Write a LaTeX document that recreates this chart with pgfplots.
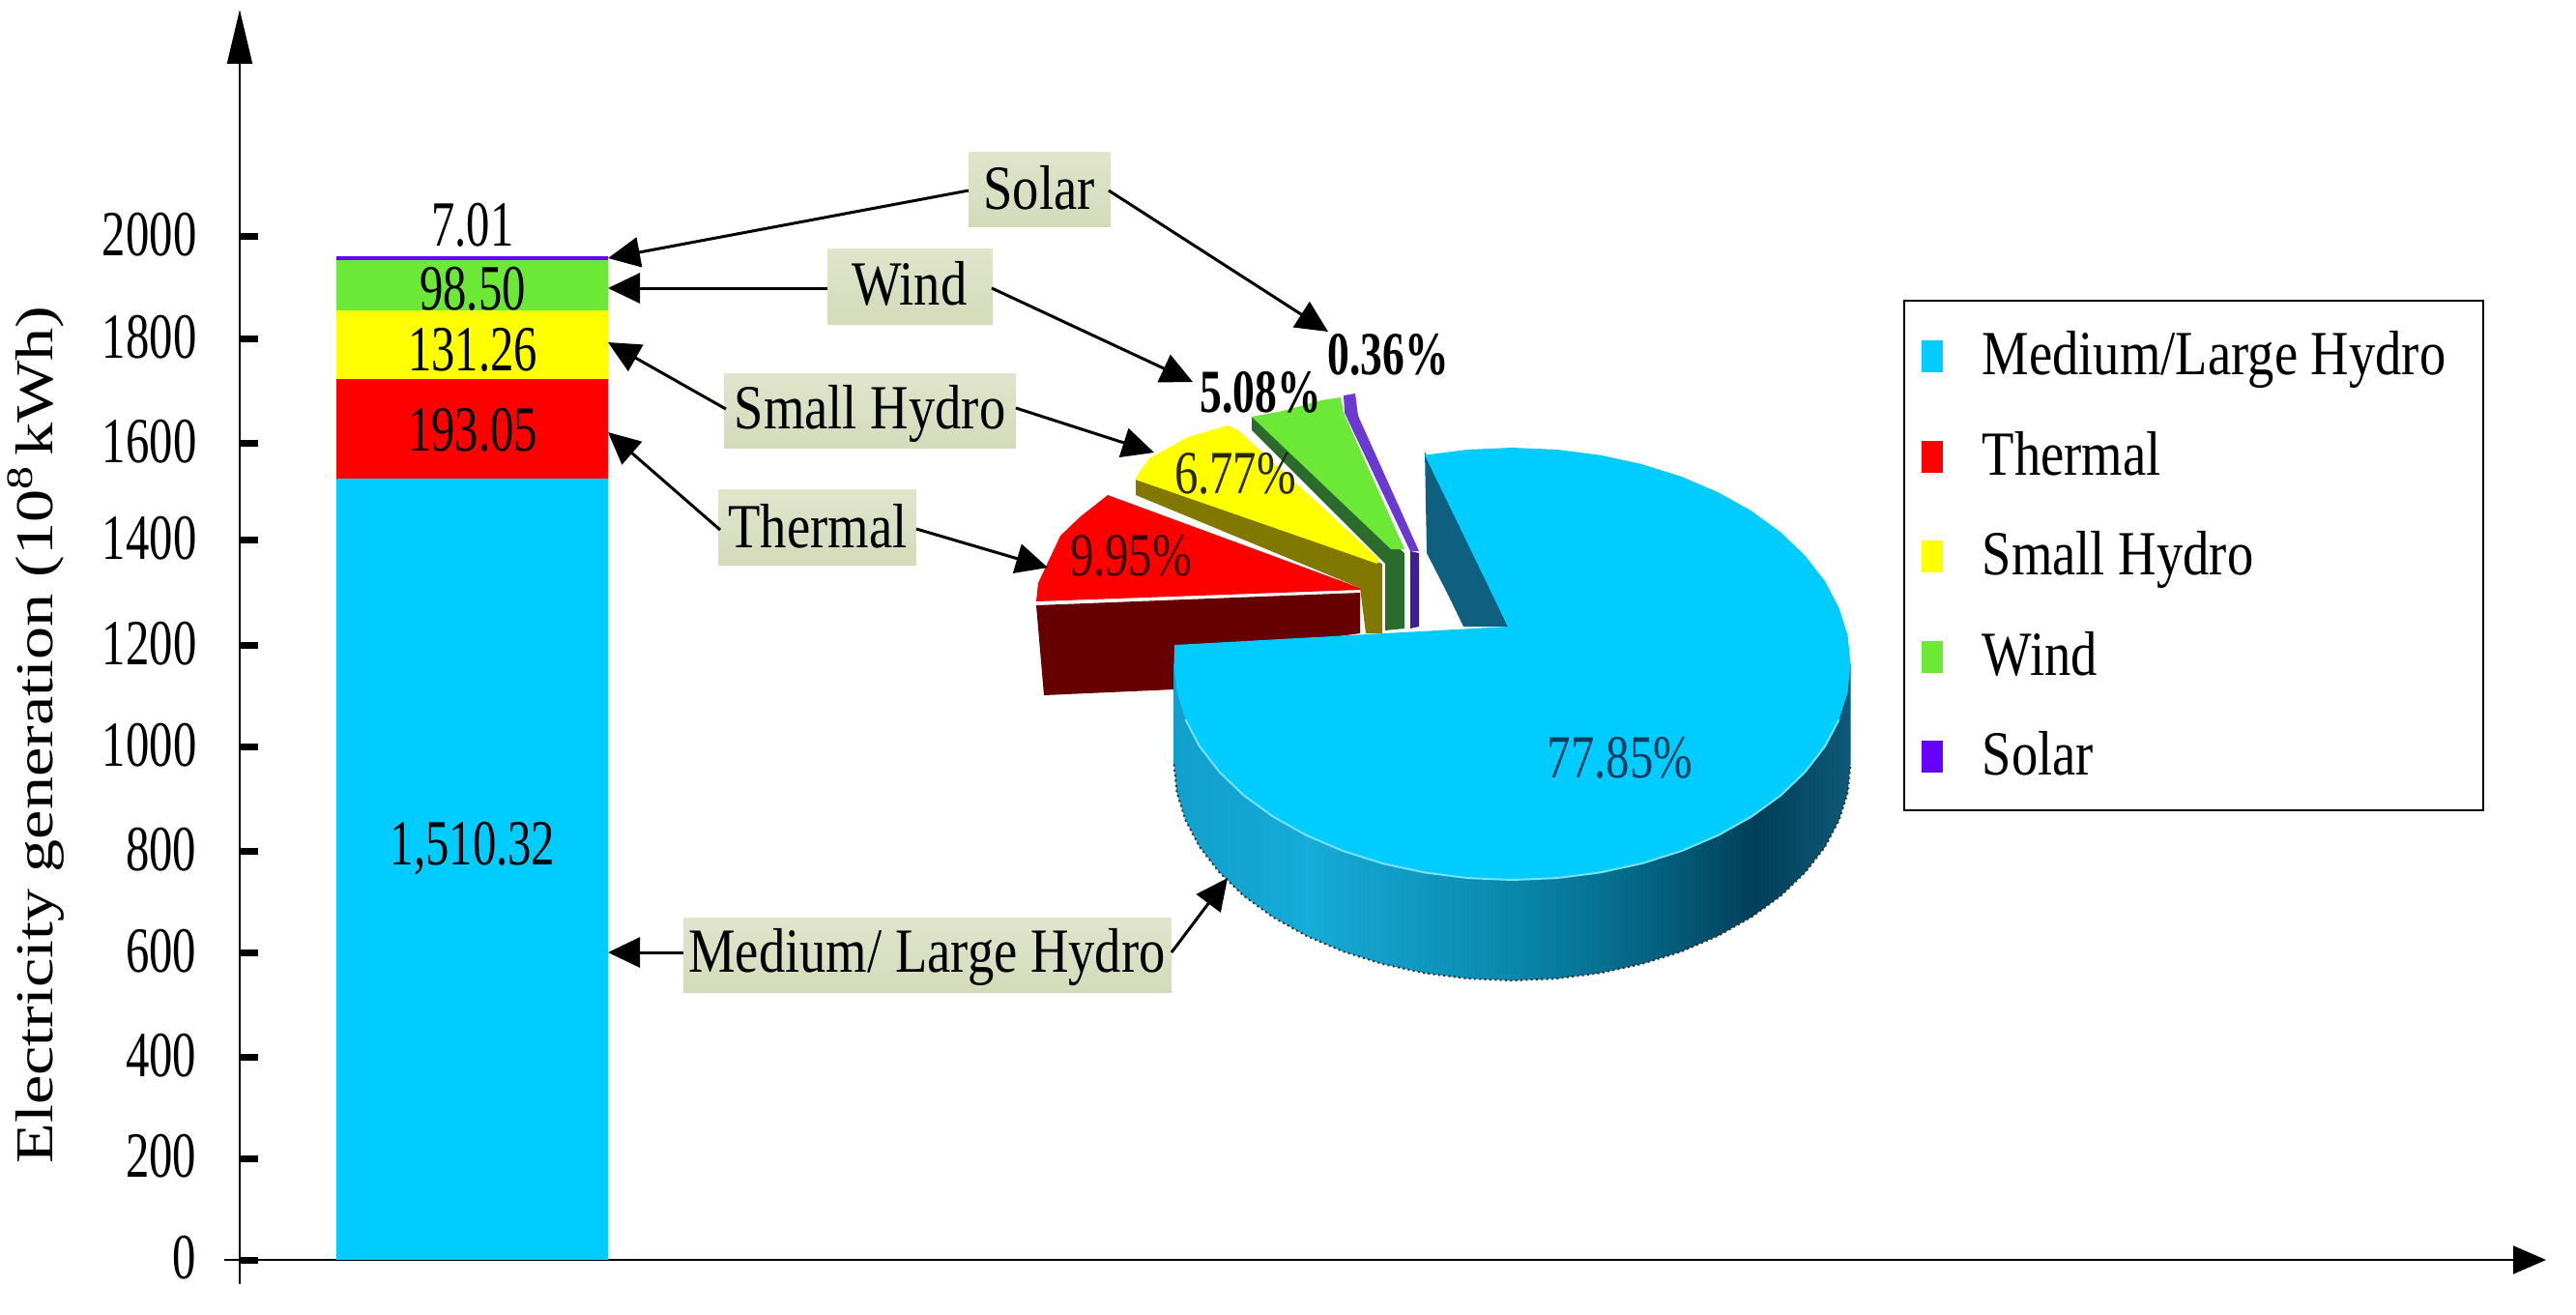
\documentclass[border=0pt]{standalone}
\usepackage{fontspec}
\usepackage{pgfplots}
\pgfplotsset{compat=1.18}
\usetikzlibrary{arrows.meta}
\setmainfont[FakeStretch=0.84]{Liberation Serif}
\newfontfamily\numfont[FakeStretch=0.73]{Liberation Serif}
\newfontfamily\pctfont[FakeStretch=0.77]{Liberation Serif}
\newfontfamily\pctbold[FakeStretch=0.72]{Liberation Serif}
\newfontfamily\labfont[FakeStretch=1.24]{Liberation Serif}
\newcommand\txt{\fontsize{19.5}{22}\selectfont}
\newcommand\num{\numfont\fontsize{20}{22}\selectfont}
\newcommand\pct{\pctfont\fontsize{19}{22}\selectfont}
\newcommand\pctb{\pctbold\fontsize{19}{22}\selectfont\bfseries}

\definecolor{hydro}{HTML}{00CCFF}
\definecolor{therm}{HTML}{FF0000}
\definecolor{small}{HTML}{FFFF00}
\definecolor{wind}{HTML}{6CE836}
\definecolor{solar}{HTML}{6600FF}
\definecolor{boxtop}{HTML}{E0E5CC}
\definecolor{boxbot}{HTML}{D4DBBA}

% side of the big slice, the shading runs over the middle 50bp
\definecolor{w1}{HTML}{129FCC}
\definecolor{w2}{HTML}{16ABD8}
\definecolor{w3}{HTML}{0A88AC}
\definecolor{w4}{HTML}{056482}
\definecolor{w5}{HTML}{033F5A}
\definecolor{w6}{HTML}{0D5A78}
\pgfdeclarehorizontalshading{piewall}{100bp}{color(0bp)=(w1); color(25bp)=(w1); color(35bp)=(w2); color(50bp)=(w3); color(60bp)=(w4); color(68bp)=(w5); color(75bp)=(w6); color(100bp)=(w6)}

\pgfplotsset{pie/.style={forget plot,draw=none,mark=none}}

% box for the callouts: x1,y1,x2,y2, text x, baseline y, text
\newcommand\callout[7]{%
  \fill[top color=boxtop,bottom color=boxbot] (axis cs:#1,#2) rectangle (axis cs:#3,#4);
  \node[anchor=base,inner sep=0pt,font=\txt] at (axis cs:#5,#6) {#7};
}
\tikzset{call/.style={line width=.9pt,-{Triangle[length=9.9pt,width=9.3pt]}}}
\newcommand\lgd[1]{\hspace*{12.2pt}\makebox[150pt][l]{#1}}

\begin{document}
\begin{tikzpicture}[x=1pt,y=1pt]
\useasboundingbox (0pt,0pt) rectangle (799.5pt,407.7pt);
% bars, ticks and legend. 0.3pt = 1 px of the reference
\begin{axis}[
    at={(74.4pt,16.8pt)},anchor=south west,
    scale only axis,width=715.8pt,height=387.9pt,
    xmin=248,xmax=2634,ymin=0,ymax=2416.8,
    axis lines=left,
    x axis line style={line width=.6pt,-{Triangle[length=10.2pt,width=8.7pt]}},
    y axis line style={line width=.6pt,-{Triangle[length=16.8pt,width=7.8pt]}},
    xtick=\empty,
    ytick={0,196,391,594,789,991,1187,1391,1579,1781,1978},
    yticklabels={0,200,400,600,800,1000,1200,1400,1600,1800,2000},
    tick align=inside,major tick length=5.7pt,
    tick style={line width=2.1pt,black},
    yticklabel style={font=\num,inner sep=0pt,xshift=-13.2pt,yshift=.6pt},
    ylabel={\labfont Electricity generation (10\textsuperscript{8}\,kWh)},
    every axis y label/.style={at={(rel axis cs:-0.0813,0.42)},rotate=90,anchor=base,font=\fontsize{16.5}{18}\selectfont},
    ybar stacked,bar width=84.3pt,
    legend cell align=left,
    legend image code/.code={\fill[#1] (0pt,-5.3pt) rectangle (6.6pt,4.6pt);},
    legend style={at={(rel axis cs:0.7213,0.768)},anchor=north west,
        draw=black,line width=.6pt,font=\txt,
        inner xsep=5.4pt,inner ysep=6pt,row sep=9.05pt,
        nodes={inner sep=0pt,text height=17pt,text depth=5pt}},
]
\addplot[fill=hydro,draw=none] coordinates {(488.5,1510.32)};
\addlegendentry{\lgd{Medium/Large Hydro}}
\addplot[fill=therm,draw=none] coordinates {(488.5,193.05)};
\addlegendentry{\lgd{Thermal}}
\addplot[fill=small,draw=none] coordinates {(488.5,131.26)};
\addlegendentry{\lgd{Small Hydro}}
\addplot[fill=wind,draw=none] coordinates {(488.5,98.50)};
\addlegendentry{\lgd{Wind}}
\addplot[fill=solar,draw=none] coordinates {(488.5,7.01)};
\addlegendentry{\lgd{Solar}}
\end{axis}

% pie and callouts, in pixels of the reference
\begin{axis}[
    at={(0pt,0pt)},anchor=south west,
    scale only axis,width=799.5pt,height=407.7pt,
    xmin=0,xmax=2665,ymin=0,ymax=1359,y dir=reverse,
    hide axis,clip=false,
]
\draw[line width=.6pt] (axis cs:248,1303)--(axis cs:248,1328);
\draw[line width=.6pt] (axis cs:232,1303)--(axis cs:248,1303);

% small slices
\addplot[pie,fill=therm!40!black] coordinates {(1072,626) (1407,613) (1407,655) (1300,670) (1215,713) (1080,719)};
\addplot[pie,fill=therm] coordinates {(1072,622) (1074,603) (1097,554) (1118,534) (1146,512) (1407,608) (1407,610)};
\addplot[pie,fill={rgb,255:red,128;green,120;blue,0}] coordinates {(1175,496) (1175,512) (1407,608) (1413,655) (1430,655) (1430,583)};
\addplot[pie,fill=small] coordinates {(1175,494) (1189,474) (1229,452) (1270,440) (1281,445) (1425,577) (1425,583) (1175,496)};
\addplot[pie,fill={rgb,255:red,43;green,107;blue,43}] coordinates {(1295,431) (1295,445) (1433,583) (1433,652) (1453,650) (1453,572)};
\addplot[pie,fill=wind] coordinates {(1295,431) (1327,425) (1367,414) (1387,411) (1390,427) (1453,568) (1439,568)};
\addplot[pie,fill={rgb,255:red,60;green,30;blue,150}] coordinates {(1459,570) (1468,572) (1468,648) (1459,650)};
\addplot[pie,fill={rgb,255:red,106;green,58;blue,208}] coordinates {(1390,409) (1402,407) (1405,430) (1468,570) (1459,570) (1391,427)};

% big slice: cut face, side, top
\addplot[pie,fill={rgb,255:red,14;green,95;blue,128}] coordinates {(1474,467) (1560,648) (1514,648) (1499,617) (1476,572)};
\addplot[pie,shading=piewall,shading angle=0] coordinates {
    (1214.5,686.5) (1214.5,790.5) (1217.5,819.7) (1226.5,848.3) (1241.1,876) (1261.5,902.25) (1286.8,926.6)
    (1317,948.5) (1351.4,967.8) (1389.5,984.1) (1430.6,997) (1473.9,1006.4) (1518.8,1012.1) (1564.5,1014)
    (1610.2,1012.1) (1655.1,1006.4) (1698.4,997) (1739.5,984.1) (1777.6,967.8) (1812,948.5) (1842.2,926.6)
    (1867.5,902.25) (1887.9,876) (1902.5,848.3) (1911.5,819.7) (1914.5,790.5) (1914.5,686.5)};
\addplot[forget plot,mark=none,densely dotted,line width=.6pt,black!80] coordinates {
    (1214.5,790.5) (1217.5,819.7) (1226.5,848.3) (1241.1,876) (1261.5,902.25) (1286.8,926.6)
    (1317,948.5) (1351.4,967.8) (1389.5,984.1) (1430.6,997) (1473.9,1006.4) (1518.8,1012.1) (1564.5,1014)
    (1610.2,1012.1) (1655.1,1006.4) (1698.4,997) (1739.5,984.1) (1777.6,967.8) (1812,948.5) (1842.2,926.6)
    (1867.5,902.25) (1887.9,876) (1902.5,848.3) (1911.5,819.7) (1914.5,790.5)};
\addplot[pie,fill=hydro] coordinates {
    (1560,648) (1473.9,470.6) (1518.8,464.9) (1564.5,463) (1610.2,464.9) (1655.1,470.6) (1698.4,480) (1739.5,492.9)
    (1777.6,509.2) (1812,528.5) (1842.2,550.4) (1867.5,574.75) (1887.9,601) (1902.5,628.7) (1911.5,657.3) (1914.5,686.5)
    (1911.5,715.7) (1902.5,744.3) (1887.9,772) (1867.5,798.25) (1842.2,822.6) (1812,844.5) (1777.6,863.8) (1739.5,880.1)
    (1698.4,893) (1655.1,902.4) (1610.2,908.1) (1564.5,910) (1518.8,908.1) (1473.9,902.4) (1430.6,893) (1389.5,880.1)
    (1351.4,863.8) (1317,844.5) (1286.8,822.6) (1261.5,798.25) (1241.1,772) (1226.5,744.3) (1217.5,715.7) (1214.5,686.5) (1215,667)};
\addplot[forget plot,mark=none,line width=.6pt,color={rgb,255:red,120;green,225;blue,250}] coordinates {
    (1902.5,744.3) (1887.9,772) (1867.5,798.25) (1842.2,822.6) (1812,844.5) (1777.6,863.8) (1739.5,880.1)
    (1698.4,893) (1655.1,902.4) (1610.2,908.1) (1564.5,910) (1518.8,908.1) (1473.9,902.4) (1430.6,893) (1389.5,880.1)
    (1351.4,863.8) (1317,844.5) (1286.8,822.6) (1261.5,798.25) (1241.1,772) (1226.5,744.3)};

% values on the bar
\node[anchor=base,inner sep=0pt,font=\num] at (axis cs:489,254) {7.01};
\node[anchor=base,inner sep=0pt,font=\num] at (axis cs:489,320) {98.50};
\node[anchor=base,inner sep=0pt,font=\num] at (axis cs:489,383) {131.26};
\node[anchor=base,inner sep=0pt,font=\num] at (axis cs:489,466) {193.05};
\node[anchor=base,inner sep=0pt,font=\num] at (axis cs:489,894) {1,510.32};

% percentages
\node[anchor=base,inner sep=0pt,font=\pct,text={rgb,255:red,8;green,60;blue,95}] at (axis cs:1676,804) {77.85\%};
\node[anchor=base,inner sep=0pt,font=\pct,text={rgb,255:red,60;green,0;blue,0}] at (axis cs:1170,595) {9.95\%};
\node[anchor=base,inner sep=0pt,font=\pct,text={rgb,255:red,40;green,40;blue,0}] at (axis cs:1278,510) {6.77\%};
\node[anchor=base,inner sep=0pt,font=\pctb] at (axis cs:1304,426) {5.08\%};
\node[anchor=base,inner sep=0pt,font=\pctb] at (axis cs:1436,387) {0.36\%};

% callouts
\callout{1002}{157}{1149}{234}{1075}{216}{Solar}
\callout{856}{257}{1027}{335}{941}{315}{Wind}
\callout{749}{386}{1051}{463}{900}{443}{Small Hydro}
\callout{743}{506}{948}{584}{846}{566}{Thermal}
\callout{707}{949}{1212}{1026}{959}{1005}{Medium/ Large Hydro}

\draw[call] (axis cs:1002,197)--(axis cs:629,267);
\draw[call] (axis cs:1147,197)--(axis cs:1374,343);
\draw[call] (axis cs:856,298)--(axis cs:629,298);
\draw[call] (axis cs:1026,298)--(axis cs:1234,395);
\draw[call] (axis cs:751,423)--(axis cs:629,354);
\draw[call] (axis cs:1051,422)--(axis cs:1194,468);
\draw[call] (axis cs:745,548)--(axis cs:629,447);
\draw[call] (axis cs:948,547)--(axis cs:1084,587);
\draw[call] (axis cs:707,985)--(axis cs:629,985);
\draw[call] (axis cs:1212,985)--(axis cs:1270,908);
\end{axis}
\end{tikzpicture}
\end{document}
